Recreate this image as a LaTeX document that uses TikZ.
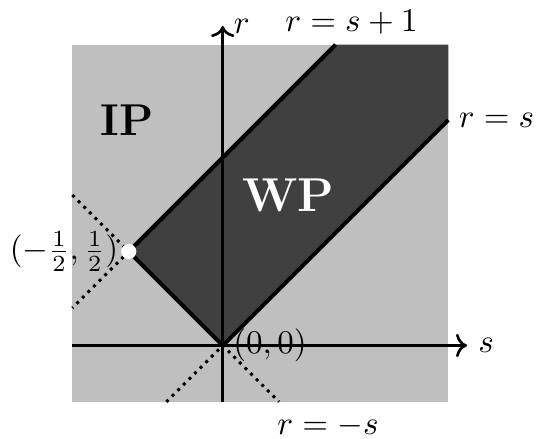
\documentclass[tikz,border=0pt]{standalone}
\usetikzlibrary{arrows.meta}
\definecolor{lightreg}{gray}{0.75}
\definecolor{darkreg}{gray}{0.25}
\begin{document}
\begin{tikzpicture}[x=2cm,y=2cm,
  axisline/.style={thick,->},
  boundline/.style={very thick,line join=round},
  dotline/.style={line width=0.9pt,dash pattern=on 0.9pt off 1.5pt},
  lbl/.style={inner sep=3pt}]
\useasboundingbox (-1.185,-0.497) rectangle (1.672,1.838);
% corner coordinates
\coordinate (O) at (0,0);
\coordinate (P) at (-0.5,0.5);
\coordinate (A) at (1.2,1.2);
\coordinate (B) at (1.2,1.6);
\coordinate (C) at (0.6,1.6);
% regions
\fill[lightreg] (-0.8,-0.3) rectangle (1.2,1.6);
\fill[darkreg] (P) -- (O) -- (A) -- (B) -- (C) -- cycle;
% dotted extensions
\coordinate (d1) at (-0.8,0.8);
\coordinate (d2) at (-0.8,0.2);
\coordinate (d3) at (-0.3,-0.3);
\coordinate (d4) at (0.3,-0.3);
\draw[dotline] (d1) -- (P) -- (d2);
\draw[dotline] (d3) -- (O) -- (d4);
% axes
\coordinate (xs) at (-0.8,0);
\coordinate (xe) at (1.3,0);
\coordinate (ys) at (0,-0.3);
\coordinate (ye) at (0,1.7);
\draw[axisline] (xs) -- (xe) node[right,lbl] (slab) {$s$};
\draw[axisline] (ys) -- (ye) node[right,lbl] (rlab) {$r$};
% boundaries
\draw[boundline] (C) -- (P) -- (O) -- (A);
% point
\fill[white] (P) circle (2.3pt);
% labels
\node[left,lbl] (plab) at (P) {$(-\frac{1}{2},\frac{1}{2})$};
\node[right,lbl] (olab) at (O) {$(0,0)$};
\node[right,lbl] (rslab) at (A) {$r=s$};
\node (rs1lab) at (0.685,1.72) {$r=s+1$};
\node (rmslab) at (0.56,-0.43) {$r=-s$};
\node (ip) at (-0.51,1.2) {\fontsize{13.5}{16}\selectfont\bfseries IP};
\node[text=white] (wp) at (0.347,0.80) {\Large\bfseries WP};
\end{tikzpicture}
\end{document}
